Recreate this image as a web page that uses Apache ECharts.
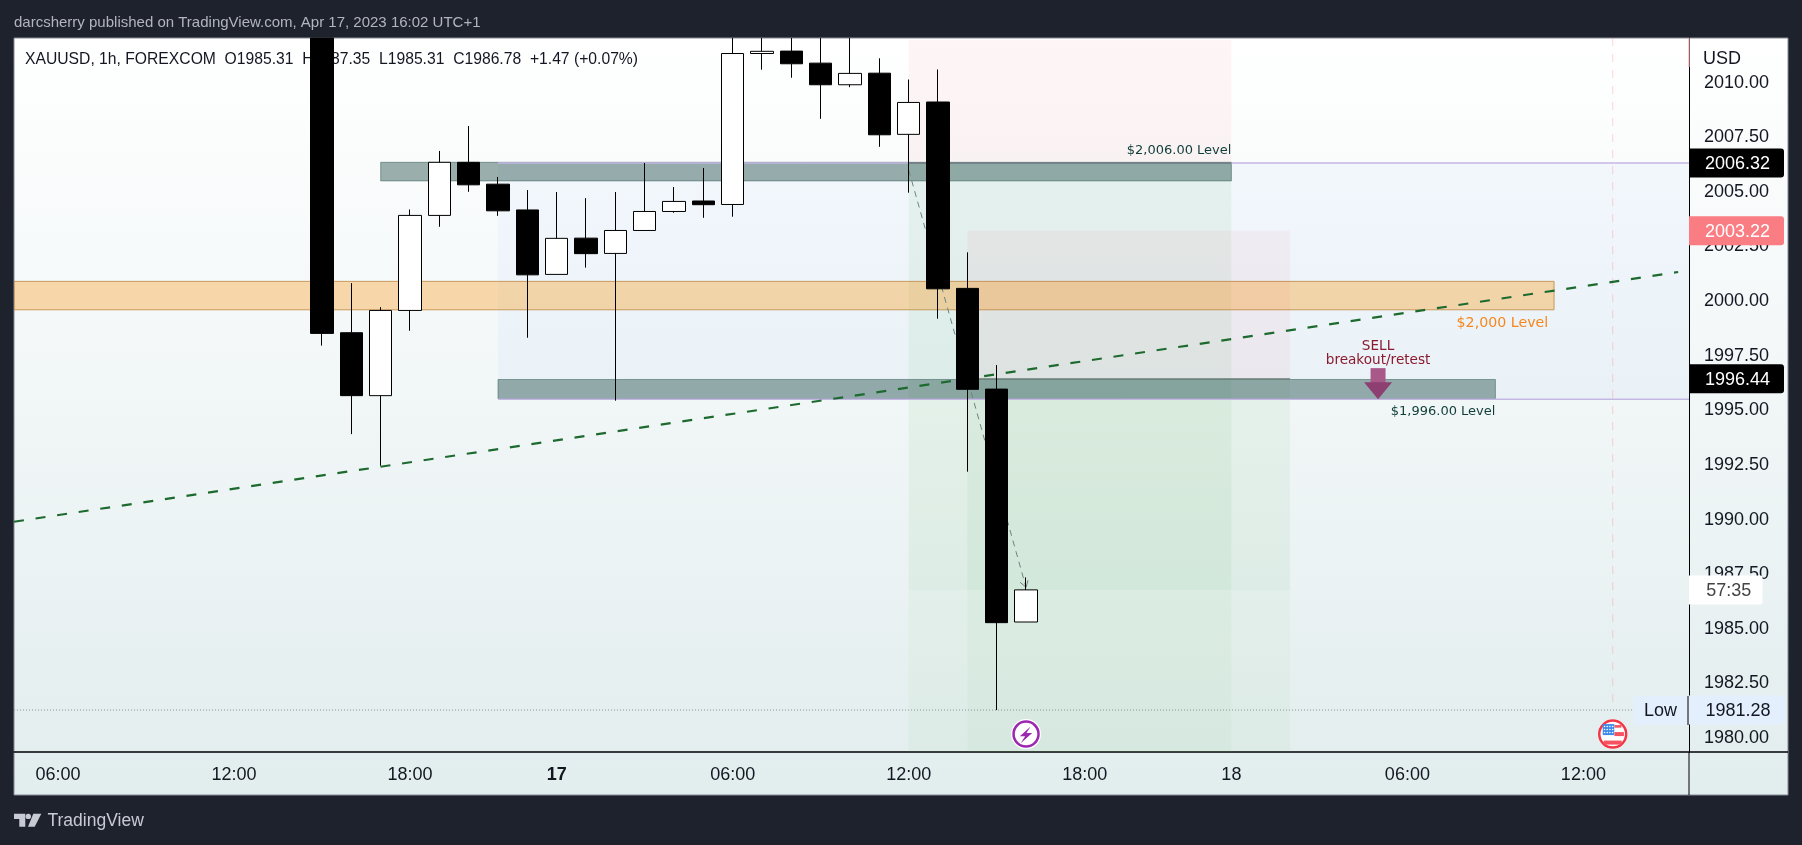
<!DOCTYPE html>
<html><head><meta charset="utf-8">
<style>html,body{margin:0;padding:0;background:#1e222d;overflow:hidden}#c{width:1802px;height:845px}</style>
<script src="https://cdn.jsdelivr.net/npm/echarts@6/dist/echarts.min.js"></script>
</head><body><div id="c"></div>
<script>
// ---------- data ----------
const barIndex = [10,11,12,13,14,15,16,17,18,19,20,21,22,23,24,25,26,27,28,29,30,31,32,33,34];
const opens  = [2012.04,1998.55,1995.67,1999.57,2003.92,2006.35,2005.35,2004.17,2001.22,2002.88,2002.18,2003.23,2004.10,2004.58,2004.42,2011.33,2011.44,2010.89,2009.90,2010.43,2007.63,2009.11,2000.58,1995.97,1985.31];
const closes = [1998.52,1995.67,1999.57,2003.92,2006.35,2005.32,2004.13,2001.20,2002.87,2002.17,2003.23,2004.10,2004.56,2004.41,2011.33,2011.43,2010.86,2009.90,2010.42,2007.61,2009.09,2000.56,1995.96,1985.28,1986.78];
const lows   = [1997.96,1993.91,1992.46,1998.64,2003.40,2005.00,2003.90,1998.32,2001.22,2001.53,1995.44,2003.23,2004.04,2003.81,2003.86,2010.59,2010.22,2008.34,2009.79,2007.06,2004.96,1999.19,1992.19,1981.28,1985.31];
const highs  = [2012.04,2000.82,1999.72,2004.19,2006.87,2008.01,2005.68,2005.08,2004.99,2004.71,2004.99,2006.32,2005.22,2006.09,2012.04,2012.04,2012.04,2012.04,2012.04,2011.11,2010.14,2010.60,2002.23,1997.07,1987.35];

const timeTickIndex = [1,7,13,18,24,30,36,41,47,53];
const timeTickLabels = ['06:00','12:00','18:00','17','06:00','12:00','18:00','18','06:00','12:00'];
const priceTicks = [1980,1982.5,1985,1987.5,1990,1992.5,1995,1997.5,2000,2002.5,2005,2007.5,2010];

// zones: [fromBar, toBar, priceA, priceB]
const blueRange    = [[16,56.6,2006.32,1995.53]];
const orangeZone   = [[-0.5,52,2000.90,1999.60]];
const upperLevel   = [[12,41,2006.35,2005.50]];
const lowerLevel   = [[16,50,1996.41,1995.53]];
const stop1        = [[30,41,2011.95,2006.32]];
const stop2        = [[32,43,2003.22,1996.44]];
const target1Fill  = [[30,41,2006.32,1986.78]];
const target1Rest  = [[30,41,1986.78,1979.36]];
const target2Fill  = [[32,43,1996.44,1986.78]];
const target2Rest  = [[32,43,1986.78,1979.36]];

const trendLine   = [[-0.5,1989.90],[56.23,2001.33]];
const upperLine   = [[16,2006.32],[56.6,2006.32]];
const lowerLine   = [[16,1995.50],[56.6,1995.50]];
const entryLine1  = [[30,2006.32],[41,2006.32]];
const entryLine2  = [[32,1996.44],[43,1996.44]];
const lowLine     = [[-0.5,1981.28],[54.7,1981.28]];
const eventLine   = [[54,2012.04],[54,1981.6]];
const projection  = [[30,2006.0,34,1986.9]];
const sellArrow   = [[46,1996.22]];
const boltEvent   = [[34,1980.18]];
const flagEvent   = [[54,1980.18]];
const blackTags   = [[2006.32,'2006.32'],[1996.44,'1996.44']];
const pinkTags    = [[2003.22,'2003.22']];
const lowTags     = [[1981.28,'1981.28']];
const timerTags   = [[1986.78,'57:35']];
const levelTexts  = [[41,2006.89,'$2,006.00 Level'],[50,1994.96,'$1,996.00 Level']];
const orangeTexts = [[51.8,1999.0,'$2,000 Level']];
const sellTexts   = [[46,1997.94,'SELL'],[46,1997.29,'breakout/retest']];

const headerText = 'darcsherry published on TradingView.com, Apr 17, 2023 16:02 UTC+1';
const legendText = 'XAUUSD, 1h, FOREXCOM  O1985.31  H1987.35  L1985.31  C1986.78  +1.47 (+0.07%)';

// ---------- helpers ----------
const AX = '"Liberation Sans", Arial, sans-serif';
const XMIN = -0.5, XMAX = 56.6, YMIN = 1979.36, YMAX = 2012.04;
function rectSeries(data, fill, stroke, z, sw) {
  return { type:'custom', coordinateSystem:'cartesian2d', data, z, silent:true, clip:true, encode:{x:[0,1],y:[2,3]},
    renderItem(p, api) {
      const a = api.coord([api.value(0), api.value(2)]), b = api.coord([api.value(1), api.value(3)]);
      return { type:'rect', shape:{x:a[0], y:a[1], width:b[0]-a[0], height:b[1]-a[1]},
        style:{fill, stroke:stroke||null, lineWidth:sw||0} };
    } };
}
function lineSeries(data, color, width, type, z) {
  return { type:'line', data, z, silent:true, symbol:'none', animation:false, clip:true,
    lineStyle:{color, width, type} };
}
function tagSeries(data, bg, fg, w, radius, shift) {
  return { type:'custom', coordinateSystem:'cartesian2d', data:data.map(d=>[XMAX,d[0],d[1]]), z:10, silent:true, clip:false,
    encode:{x:0,y:1},
    renderItem(p, api) {
      const c = api.coord([XMAX, api.value(1)]);
      return { type:'group', children:[
        { type:'rect', shape:{x:c[0], y:c[1]-14.5, width:w, height:29, r:radius}, style:{fill:bg} },
        { type:'text', style:{x:c[0]+w/2+shift, y:c[1]+1, text:data[p.dataIndex][1], fill:fg, font:'18px '+AX, textAlign:'center', textVerticalAlign:'middle'} }
      ]};
    } };
}
function textSeries(data, color, font, align) {
  return { type:'custom', coordinateSystem:'cartesian2d', data:data.map(d=>[d[0],d[1]]), z:8, silent:true, clip:false,
    encode:{x:0,y:1},
    renderItem(p, api) {
      const c = api.coord([api.value(0), api.value(1)]);
      return { type:'text', style:{x:c[0], y:c[1], text:data[p.dataIndex][2], fill:color, font, textAlign:align, textVerticalAlign:'middle'} };
    } };
}

const candleData = barIndex.map((x,i)=>[x,opens[i],closes[i],lows[i],highs[i]]);
const flagDots = [];
for (let r=0;r<3;r++) for (let k=0;k<4;k++) flagDots.push({type:'circle',shape:{cx:-8.2+k*2.7,cy:-7.6+r*3,r:0.8},style:{fill:'#ffffff'}});

const option = {
  animation:false,
  backgroundColor:'#1e222d',
  tooltip:{show:false},
  title:[
    {text:headerText, left:14, top:13, padding:0, z:1, textStyle:{color:'#b2b5be', fontFamily:AX, fontSize:15, fontWeight:'normal', lineHeight:19}},
    {text:legendText, left:25, top:50, padding:0, z:1, textStyle:{color:'#131722', fontFamily:AX, fontSize:15.7, fontWeight:'normal', lineHeight:19}}
  ],
  grid:{left:14, top:38, width:1675, height:714, containLabel:false},
  xAxis:{type:'value', min:XMIN, max:XMAX, splitLine:{show:false},
    axisLine:{show:true, onZero:false, lineStyle:{color:'#000', width:1.5}}, axisTick:{show:false},
    axisLabel:{customValues:timeTickIndex, margin:14, color:'#131722', fontFamily:AX, fontSize:18,
      formatter:v=>{const l=timeTickLabels[timeTickIndex.indexOf(v)]; return l==='17'?'{b|17}':l;},
      rich:{b:{fontWeight:'bold', fontSize:18, fontFamily:AX, color:'#131722'}}, showMinLabel:true, showMaxLabel:true}},
  yAxis:{type:'value', position:'right', min:YMIN, max:YMAX, splitLine:{show:false},
    axisLine:{show:true, onZero:false, lineStyle:{color:'#000', width:1}}, axisTick:{show:false},
    axisLabel:{customValues:priceTicks, margin:15, padding:[4,0,0,0], color:'#131722', fontFamily:AX, fontSize:18, formatter:v=>v.toFixed(2)}},
  series:[
    rectSeries(stop1,'rgba(242,54,69,0.05)',null,1),
    rectSeries(blueRange,'rgba(33,110,243,0.035)',null,1),
    rectSeries(target1Rest,'rgba(76,175,80,0.045)',null,1),
    rectSeries(target1Fill,'rgba(76,175,80,0.08)',null,1),
    rectSeries(orangeZone,'rgba(250,160,40,0.38)','rgba(190,140,70,0.85)',2,1),
    rectSeries(stop2,'rgba(242,54,69,0.05)',null,2),
    rectSeries(target2Rest,'rgba(76,175,80,0.045)',null,2),
    rectSeries(target2Fill,'rgba(76,175,80,0.07)',null,2),
    rectSeries(upperLevel,'rgba(50,90,85,0.48)','rgba(60,100,95,0.55)',3,1),
    rectSeries(lowerLevel,'rgba(50,90,85,0.48)','rgba(60,100,95,0.55)',3,1),
    lineSeries(upperLine,'#c4b7e4',1.5,'solid',3),
    lineSeries(lowerLine,'#c4b7e4',1.5,'solid',3),
    lineSeries(entryLine1,'#5f7570',1.5,'solid',3),
    lineSeries(entryLine2,'#6a7a75',1.2,'solid',3),
    lineSeries(lowLine,'#87959a',1,[1,2],3),
    lineSeries(eventLine,'rgba(242,54,69,0.2)',1,[8,8],3),
    lineSeries(trendLine,'#1d6a2f',2.2,[10,11.8],4),
    { type:'custom', coordinateSystem:'cartesian2d', data:projection, z:4, silent:true, clip:true, encode:{x:[0,2],y:[1,3]},
      renderItem(p, api){
        const a=api.coord([api.value(0),api.value(1)]), b=api.coord([api.value(2),api.value(3)]);
        const st={stroke:'#6f8380', lineWidth:1, fill:null};
        return {type:'group',children:[
          {type:'line',shape:{x1:a[0],y1:a[1],x2:b[0],y2:b[1]},style:{...st,lineDash:[6,5]}},
          {type:'polyline',shape:{points:[[b[0]-6,b[1]-5],[b[0],b[1]],[b[0]+2,b[1]-7]]},style:st}
        ]};
      }},
    { type:'candlestick', data:candleData, z:5, silent:true, barWidth:23, clip:true,
      encode:{x:0,y:[1,2,3,4]},
      itemStyle:{color:'#ffffff', color0:'#000000', borderColor:'#000000', borderColor0:'#000000', borderWidth:1} },
    { type:'custom', coordinateSystem:'cartesian2d', data:sellArrow, z:7, silent:true, encode:{x:0,y:1},
      renderItem(p, api){
        const c=api.coord([api.value(0),api.value(1)]);
        return {type:'group',x:c[0],y:c[1],children:[
          {type:'rect',shape:{x:-7.5,y:-15.5,width:15,height:15},style:{fill:'#a9588a'}},
          {type:'polygon',shape:{points:[[-14,-1.5],[14,-1.5],[0,15.5]]},style:{fill:'#8c3f70'}}
        ]};
      }},
    textSeries(levelTexts,'#0f3d38','13px "DejaVu Sans", sans-serif','right'),
    textSeries(orangeTexts,'#f7861c','14.2px "DejaVu Sans", sans-serif','right'),
    textSeries(sellTexts,'#8b1a2e','13.6px "DejaVu Sans", sans-serif','center'),
    { type:'custom', coordinateSystem:'cartesian2d', data:boltEvent, z:9, silent:true, clip:false, encode:{x:0,y:1},
      renderItem(p, api){
        const c=api.coord([api.value(0),api.value(1)]);
        return {type:'group',x:c[0],y:c[1],children:[
          {type:'circle',shape:{r:15},style:{fill:'#fff'}},
          {type:'circle',shape:{r:12.5},style:{fill:'#fff',stroke:'#9c27b0',lineWidth:2.5}},
          {type:'polygon',shape:{points:[[4.6,-7.5],[-6.2,2.1],[-0.9,2.1],[-5.4,9.1],[6.2,-1.2],[0.4,-1.2]]},style:{fill:'#9c27b0'}}
        ]};
      }},
    { type:'custom', coordinateSystem:'cartesian2d', data:flagEvent, z:9, silent:true, clip:false, encode:{x:0,y:1},
      renderItem(p, api){
        const c=api.coord([api.value(0),api.value(1)]);
        return {type:'group',x:c[0],y:c[1],children:[
          {type:'circle',shape:{r:15},style:{fill:'#fff'}},
          {type:'circle',shape:{r:13.5},style:{fill:'#fff',stroke:'#f23645',lineWidth:2.5}},
          {type:'rect',shape:{x:1.7,y:-9,width:7,height:2.6},style:{fill:'#f7525f'}},
          {type:'rect',shape:{x:1.7,y:-2,width:9.5,height:4},style:{fill:'#f7525f'}},
          {type:'rect',shape:{x:-9,y:6.5,width:18,height:4},style:{fill:'#f7525f'}},
          {type:'rect',shape:{x:-10,y:-10,width:11.5,height:11},style:{fill:'#3d8bea'}},
          ...flagDots
        ]};
      }},
    tagSeries(blackTags,'#000000','#ffffff',95,[0,3,3,0],1),
    tagSeries(pinkTags,'#fa7d84','#ffffff',95,[0,3,3,0],1),
    tagSeries(lowTags,'#e3effd','#131722',96,[0,0,0,0],1),
    tagSeries(timerTags,'#ffffff','#444444',73.5,[0,2,2,0],3)
  ],
  graphic:[
    {type:'rect', z:-10, silent:true, shape:{x:14,y:38,width:1774,height:757},
      style:{stroke:'#858a94', lineWidth:1, fill:new echarts.graphic.LinearGradient(0,0,0,1,[{offset:0,color:'#ffffff'},{offset:1,color:'#e2edee'}])}},
    {type:'line', z:20, silent:true, shape:{x1:1689,y1:752,x2:1788,y2:752}, style:{stroke:'#000',lineWidth:1.5}},
    {type:'line', z:20, silent:true, shape:{x1:1689,y1:752,x2:1689,y2:795}, style:{stroke:'#000',lineWidth:1}},
    {type:'line', z:20, silent:true, shape:{x1:1689,y1:38,x2:1689,y2:67}, style:{stroke:'#f7a8ad',lineWidth:1.2}},
    {type:'rect', z:20, silent:true, shape:{x:1633.5,y:696,width:55,height:29}, style:{fill:'#e3effd'}},
    {type:'line', z:21, silent:true, shape:{x1:1688,y1:696,x2:1688,y2:725}, style:{stroke:'#000',lineWidth:1}},
    {type:'text', z:21, silent:true, style:{x:1660.5,y:711.5,text:'Low',fill:'#131722',font:'18px '+AX,textAlign:'center',textVerticalAlign:'middle'}},
    {type:'text', z:21, silent:true, style:{x:1703,y:59,text:'USD',fill:'#131722',font:'18px '+AX,textAlign:'left',textVerticalAlign:'middle'}},
    {type:'polygon', z:21, silent:true, shape:{points:[[14,813.7],[25.3,813.7],[25.3,826.7],[19.3,826.7],[19.3,819],[14,819]]}, style:{fill:'#c8cbd3'}},
    {type:'circle', z:21, silent:true, shape:{cx:28.3,cy:816.4,r:2.7}, style:{fill:'#c8cbd3'}},
    {type:'polygon', z:21, silent:true, shape:{points:[[33.3,813.7],[41.3,813.7],[34.7,826.7],[28,826.7]]}, style:{fill:'#c8cbd3'}},
    {type:'text', z:21, silent:true, style:{x:47.5,y:821,text:'TradingView',fill:'#c8cbd3',font:'17.5px '+AX,textAlign:'left',textVerticalAlign:'middle'}}
  ]
};
const chart = echarts.init(document.getElementById('c'), null, {renderer:'canvas', width:1802, height:845});
chart.setOption(option);
</script></body></html>
